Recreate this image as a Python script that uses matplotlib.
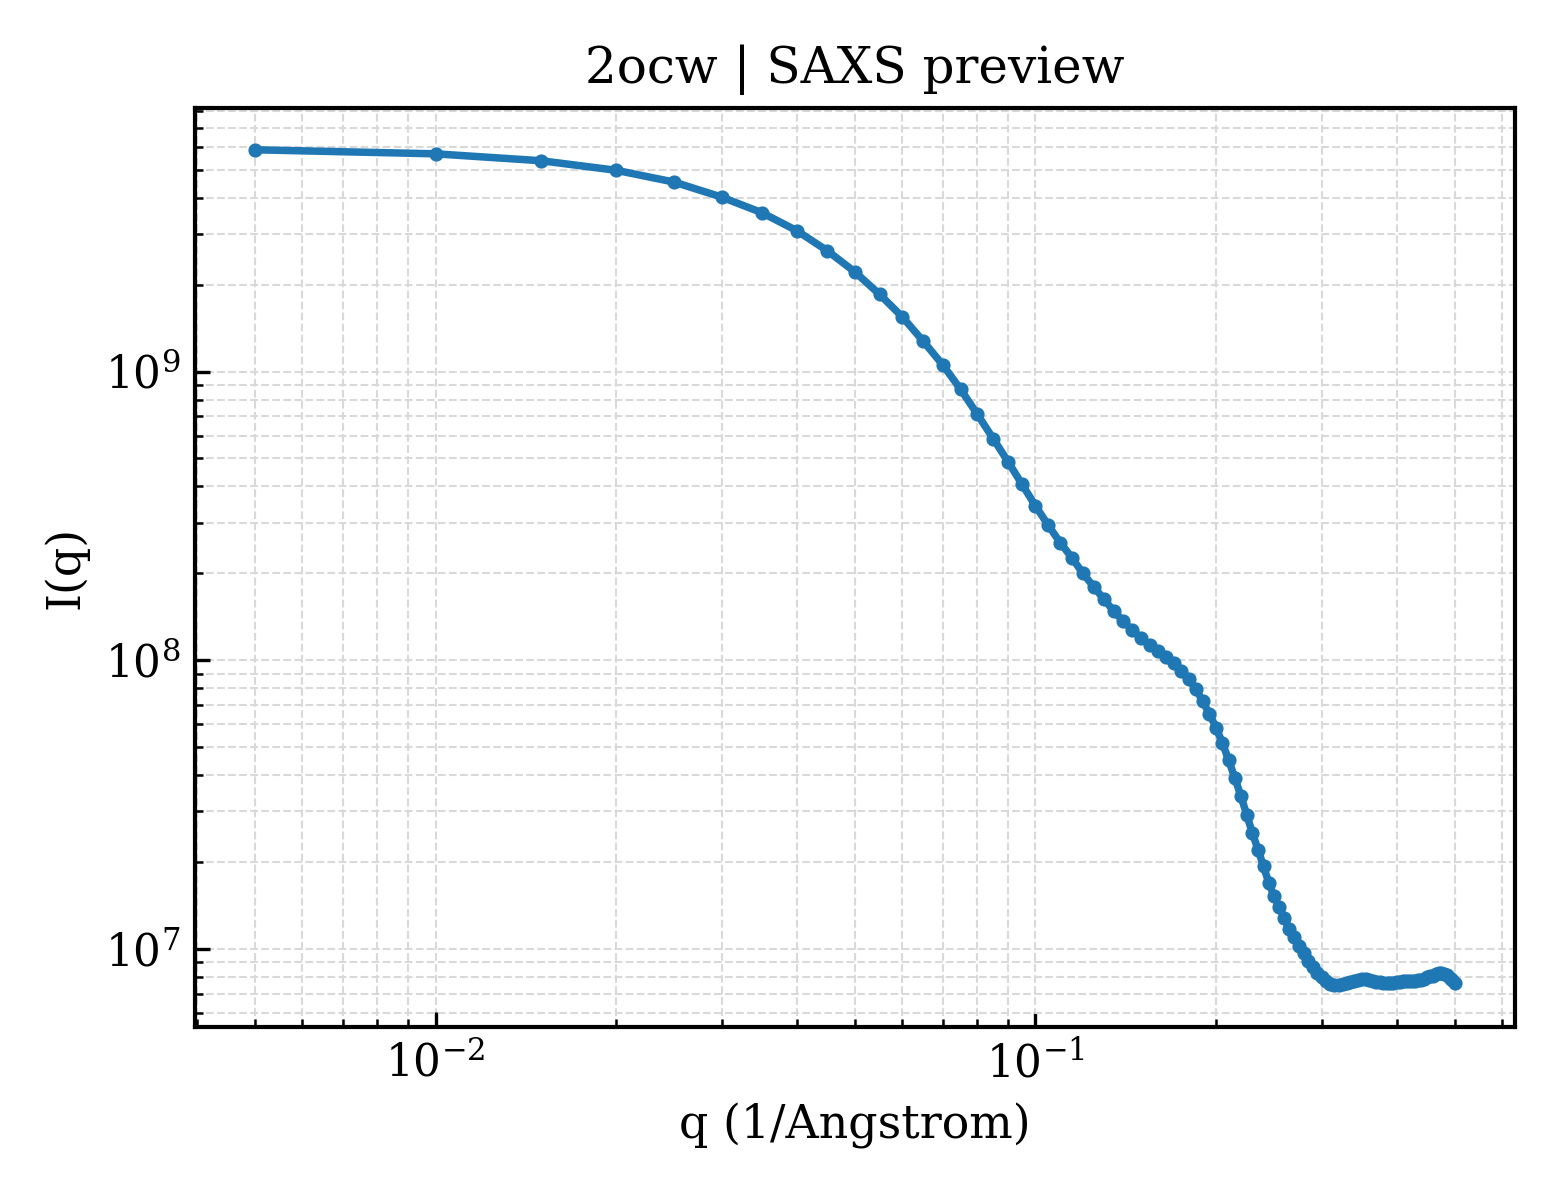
import matplotlib
matplotlib.use("Agg")
import matplotlib.pyplot as plt
import numpy as np

plt.rcParams['font.family'] = ['DejaVu Serif']
plt.rcParams['mathtext.fontset'] = 'dejavuserif'

# q grid, 0.005 .. 0.5 (1/Angstrom)
q = np.round(np.arange(1, 101) * 0.005, 3)

# log10 of I(q)
log_I = [
    9.768, 9.754, 9.730, 9.697, 9.656, 9.604, 9.550, 9.488, 9.418, 9.345,
    9.267, 9.189, 9.105, 9.024, 8.939, 8.852, 8.768, 8.688, 8.609, 8.535,
    8.468, 8.407, 8.355, 8.301, 8.255, 8.212, 8.171, 8.136, 8.104, 8.078,
    8.053, 8.032, 8.012, 7.990, 7.963, 7.934, 7.901, 7.859, 7.814, 7.767,
    7.713, 7.653, 7.592, 7.530, 7.465, 7.401, 7.344, 7.286, 7.228, 7.182,
    7.144, 7.107, 7.069, 7.040, 7.011, 6.986, 6.960, 6.937, 6.918, 6.902,
    6.890, 6.880, 6.874, 6.874, 6.878, 6.881, 6.885, 6.888, 6.893, 6.895,
    6.895, 6.893, 6.890, 6.887, 6.885, 6.882, 6.881, 6.882, 6.883, 6.885,
    6.887, 6.888, 6.889, 6.890, 6.890, 6.890, 6.892, 6.894, 6.897, 6.902,
    6.905, 6.908, 6.913, 6.917, 6.917, 6.915, 6.909, 6.900, 6.892, 6.882,
]
I = 10 ** np.array(log_I)

fig, ax = plt.subplots(figsize=(5.2, 4), dpi=300)
ax.plot(q, I, '-o', color='#1f77b4', lw=1.8, ms=2.4)
ax.set_xscale('log')
ax.set_yscale('log')
ax.set_xlabel('q (1/Angstrom)', fontsize=11)
ax.set_ylabel('I(q)', fontsize=11)
ax.set_title('2ocw | SAXS preview', fontsize=12)
ax.tick_params(which='both', direction='in', labelsize=10.5)
ax.grid(True, which='both', ls='--', lw=0.5, color='#d9d9d9')
for s in ax.spines.values():
    s.set_linewidth(1.0)

fig.subplots_adjust(left=0.125, right=0.971, top=0.91, bottom=0.144)
fig.savefig('out.png', dpi=300)
